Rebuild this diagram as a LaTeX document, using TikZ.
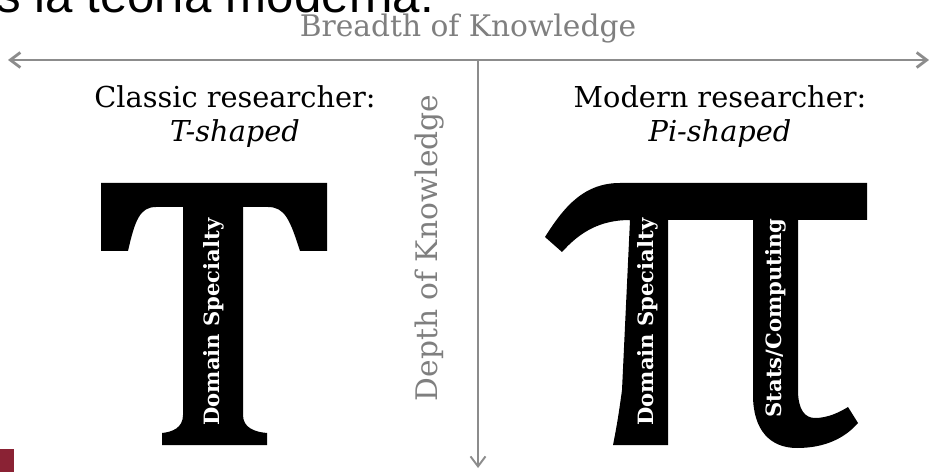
\documentclass[tikz,border=0pt]{standalone}
\usepackage{fontspec}
\setmainfont{DejaVu Serif}
\newfontfamily\slidefont{Liberation Sans}
\usetikzlibrary{arrows.meta}
\definecolor{axisgray}{HTML}{8C8C8C}
\definecolor{labelgray}{HTML}{7F7F7F}
\definecolor{slidered}{HTML}{8A2234}
\tikzset{
  axis/.style={draw=axisgray, line width=1.6pt, -{Straight Barb[length=0.2cm, width=0.3cm]}},
  axislabel/.style={text=labelgray, font=\fontsize{16.9}{19}\selectfont, inner sep=0pt},
  headlabel/.style={font=\fontsize{16.4}{20}\selectfont, inner sep=0pt, anchor=base},
  glyph/.style={fill=black},
  glyphlabel/.style={text=white, font=\bfseries\fontsize{12}{14}\selectfont, inner sep=0pt, rotate=90},
}
\begin{document}
\begin{tikzpicture}[x=0.02cm, y=-0.02cm]
\useasboundingbox (0,0) rectangle (929,472);
\begin{scope}
\clip (0,0) rectangle (929,472);
\node[anchor=base west, inner sep=0pt, font=\slidefont\fontsize{28}{31}\selectfont] (slidetitle) at (-4,13) {s la teoría moderna:};
\end{scope}
\fill[slidered] (0,449) rectangle (14,472);
% axes
\coordinate (bl) at (8,60);
\coordinate (br) at (929,60);
\coordinate (vt) at (478,60);
\coordinate (vb) at (478,468);
\draw[axis, {Straight Barb[length=0.2cm, width=0.3cm]}-{Straight Barb[length=0.2cm, width=0.3cm]}] (bl) -- (br);
\draw[axis, line width=1.1pt] (vt) -- (vb);
\node[axislabel, anchor=base] (breadth) at (468,37) {Breadth of Knowledge};
\node[axislabel, rotate=90] (depth) at (430,248) {Depth of Knowledge};
% headings
\node[headlabel] (classic) at (235,108) {Classic researcher:};
\node[headlabel, font=\itshape\fontsize{16.4}{20}\selectfont] (tshape) at (235,142) {T-shaped};
\node[headlabel] (modern) at (720,108) {Modern researcher:};
\node[headlabel, font=\itshape\fontsize{16.4}{20}\selectfont] (pishape) at (720,142) {Pi-shaped};
% T
\fill[glyph] (101,183) -- (327,183) -- (327,251) -- (300,251)
  .. controls (290,220) and (285,207) .. (268,207) -- (243,207)
  -- (243,415) .. controls (243,428) and (255,432) .. (267,433) -- (267,445)
  -- (162,445) -- (162,433) .. controls (172,432) and (183,428) .. (183,415)
  -- (183,207) -- (156,207) .. controls (140,207) and (135,220) .. (128,251)
  -- (101,251) -- cycle;
\node[glyphlabel] (tdomain) at (214,322) {Domain Specialty};
% Pi
\fill[glyph] (620,183) -- (867,183) -- (867,220) -- (798,220) -- (798,390)
  .. controls (798,410) and (805,418) .. (815,418)
  .. controls (828,418) and (840,412) .. (848,407) -- (858,423)
  .. controls (845,438) and (825,448) .. (797,448)
  .. controls (770,448) and (753,430) .. (753,395) -- (753,220) -- (668,220)
  -- (668,445) -- (613,445) .. controls (615,435) and (618,420) .. (622,390)
  -- (630,220) .. controls (600,220) and (580,232) .. (562,252) -- (545,237)
  .. controls (565,205) and (585,183) .. (620,183) -- cycle;
\node[glyphlabel] (pidomain) at (648,322) {Domain Specialty};
\node[glyphlabel] (pistats) at (776,318) {Stats/Computing};
\end{tikzpicture}
\end{document}
